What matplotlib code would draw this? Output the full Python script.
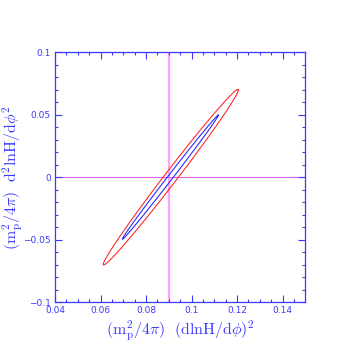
import numpy as np
import matplotlib
matplotlib.use("Agg")
import matplotlib.pyplot as plt
from matplotlib.ticker import MultipleLocator

plt.rcParams['mathtext.fontset'] = 'cm'

# Ellipse parameters: center x, center y, half-range x, half-range y, correlation
ell_names = ["outer", "inner"]
ell_cx = [0.0909, 0.0907]
ell_cy = [0.0, 0.0]
ell_sx = [0.0297, 0.0211]
ell_sy = [0.0702, 0.0496]
ell_rho = [0.9935, 0.998]
ell_colors = ["#ff2020", "#2020ff"]

vline_x = 0.09
hline_y = 0.0

xticks = [0.04, 0.06, 0.08, 0.1, 0.12, 0.14]
xticklabels = ["0.04", "0.06", "0.08", "0.1", "0.12", "0.14"]
yticks = [-0.1, -0.05, 0, 0.05, 0.1]
yticklabels = ["\u22120.1", "\u22120.05", "0", "0.05", "0.1"]

blue = "#3a3aff"

fig = plt.figure(figsize=(3.57, 3.57), dpi=100)
ax = fig.add_axes([55/357, 1 - 302.3/357, 250.3/357, 250.3/357])

ax.axvline(vline_x, color="#ffa0ff", lw=1.6, zorder=1)
ax.axhline(hline_y, color="#dc60e6", lw=0.8, zorder=1)

t = np.linspace(0, 2*np.pi, 400)
for cx, cy, sx, sy, r, c in zip(ell_cx, ell_cy, ell_sx, ell_sy, ell_rho, ell_colors):
    x = cx + sx*np.cos(t)
    y = cy + sy*(r*np.cos(t) + np.sqrt(1 - r**2)*np.sin(t))
    ax.plot(x, y, color=c, lw=0.75, zorder=2)

ax.set_xlim(0.04, 0.15)
ax.set_ylim(-0.1, 0.1)
ax.set_xticks(xticks)
ax.set_xticklabels(xticklabels)
ax.set_yticks(yticks)
ax.set_yticklabels(yticklabels)
ax.xaxis.set_minor_locator(MultipleLocator(0.005))
ax.yaxis.set_minor_locator(MultipleLocator(0.01))
ax.tick_params(which='both', direction='in', top=True, right=True, color=blue,
               labelcolor=blue, labelsize=6.5, width=0.8)
ax.tick_params(which='major', length=5)
ax.tick_params(axis='x', which='major', pad=3)
ax.tick_params(axis='y', which='major', pad=3)
ax.tick_params(which='minor', length=2.5)
for s in ax.spines.values():
    s.set_color(blue)
    s.set_linewidth(0.9)

ax.set_xlabel(r'$(\mathrm{m_p^2}/4\pi)\ \ (\mathrm{dlnH}/\mathrm{d}\phi)^2$', color=blue, fontsize=11.5)
ax.set_ylabel(r'$(\mathrm{m_p^2}/4\pi)\ \ \mathrm{d^2lnH}/\mathrm{d}\phi^2$', color=blue, fontsize=11.5)
ax.xaxis.label.set_va('center')
ax.yaxis.label.set_va('center')
ax.xaxis.set_label_coords(0.5, -(331 - 302.3)/250.3)
ax.yaxis.set_label_coords(-(55 - 12.5)/250.3, 0.5)

fig.savefig("out.png", dpi=100)
